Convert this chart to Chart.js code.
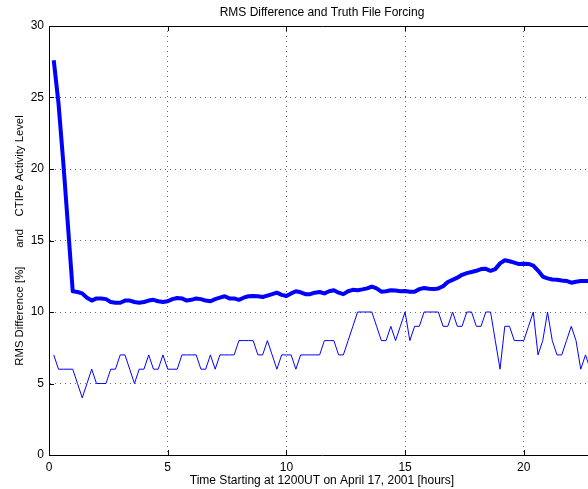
<!DOCTYPE html>
<html>
<head>
<meta charset="utf-8">
<script src="https://cdn.jsdelivr.net/npm/chart.js@4/dist/chart.umd.min.js"></script>
<style>
  html, body { margin: 0; padding: 0; overflow: hidden; background: #fff; }
  #wrap { width: 600px; height: 489px; }
</style>
</head>
<body>
<div id="wrap"><canvas id="rmsChart" width="600" height="489"></canvas></div>
<script>
// sample times (hours after 1200UT)
const hours = [
  0.2, 0.4, 0.6, 0.8, 1.0, 1.2, 1.4, 1.6, 1.8, 2.0,
  2.2, 2.4, 2.6, 2.8, 3.0, 3.2, 3.4, 3.6, 3.8, 4.0,
  4.2, 4.4, 4.6, 4.8, 5.0, 5.2, 5.4, 5.6, 5.8, 6.0,
  6.2, 6.4, 6.6, 6.8, 7.0, 7.2, 7.4, 7.6, 7.8, 8.0,
  8.2, 8.4, 8.6, 8.8, 9.0, 9.2, 9.4, 9.6, 9.8, 10.0,
  10.2, 10.4, 10.6, 10.8, 11.0, 11.2, 11.4, 11.6, 11.8, 12.0,
  12.2, 12.4, 12.6, 12.8, 13.0, 13.2, 13.4, 13.6, 13.8, 14.0,
  14.2, 14.4, 14.6, 14.8, 15.0, 15.2, 15.4, 15.6, 15.8, 16.0,
  16.2, 16.4, 16.6, 16.8, 17.0, 17.2, 17.4, 17.6, 17.8, 18.0,
  18.2, 18.4, 18.6, 18.8, 19.0, 19.2, 19.4, 19.6, 19.8, 20.0,
  20.2, 20.4, 20.6, 20.8, 21.0, 21.2, 21.4, 21.6, 21.8, 22.0,
  22.2, 22.4, 22.6, 22.8
];

// RMS difference [%] (thick line)
const rmsDiff = [
  27.6, 24.6, 20.5, 16.0, 11.45, 11.4, 11.3, 11.0, 10.8, 10.95,
  10.95, 10.9, 10.7, 10.65, 10.65, 10.8, 10.8, 10.7, 10.65, 10.7,
  10.8, 10.85, 10.75, 10.7, 10.75, 10.9, 10.98, 10.95, 10.8, 10.85,
  10.95, 10.9, 10.8, 10.75, 10.9, 11.0, 11.1, 10.95, 10.95, 10.85,
  11.0, 11.1, 11.12, 11.1, 11.05, 11.15, 11.25, 11.35, 11.2, 11.12,
  11.3, 11.45, 11.38, 11.25, 11.25, 11.35, 11.4, 11.3, 11.45, 11.52,
  11.35, 11.25, 11.45, 11.55, 11.52, 11.58, 11.65, 11.78, 11.65, 11.42,
  11.45, 11.52, 11.5, 11.45, 11.47, 11.42, 11.42, 11.6, 11.68, 11.62,
  11.6, 11.65, 11.8, 12.1, 12.25, 12.4, 12.6, 12.72, 12.8, 12.88,
  13.0, 13.02, 12.88, 13.0, 13.4, 13.62, 13.55, 13.45, 13.35, 13.38,
  13.36, 13.25, 12.9, 12.48, 12.35, 12.27, 12.26, 12.2, 12.17, 12.05,
  12.12, 12.17, 12.17, 12.17
];

// CTIPe activity level (thin line)
const activity = [
  7, 6, 6, 6, 6, 5, 4, 5, 6, 5,
  5, 5, 6, 6, 7, 7, 6, 5, 6, 6,
  7, 6, 6, 7, 6, 6, 6, 7, 7, 7,
  7, 6, 6, 7, 6, 7, 7, 7, 7, 8,
  8, 8, 8, 7, 7, 8, 7, 6, 7, 7,
  7, 6, 7, 7, 7, 7, 7, 8, 8, 8,
  7, 7, 8, 9, 10, 10, 10, 10, 9, 8,
  8, 9, 8, 9, 10, 8, 9, 9, 10, 10,
  10, 10, 9, 9, 10, 9, 9, 10, 10, 9,
  9, 10, 10, 8, 6, 9, 9, 8, 8, 8,
  9, 10, 7, 8, 10, 8, 7, 7, 8, 9,
  8, 6, 7, 6
];

const xTicks = [0, 5, 10, 15, 20];
const yTicks = [0, 5, 10, 15, 20, 25, 30];

const FONT = 'Liberation Sans, Arial, Helvetica, sans-serif';

// matlab style inward tick marks
const inwardTicks = {
  id: 'inwardTicks',
  afterDraw(chart) {
    const ctx = chart.ctx;
    const area = chart.chartArea;
    const xs = chart.scales.x, ys = chart.scales.y;
    ctx.save();
    ctx.strokeStyle = '#000';
    ctx.lineWidth = 1;
    ctx.beginPath();
    xTicks.forEach(v => {
      const px = Math.round(xs.getPixelForValue(v)) + 0.5;
      ctx.moveTo(px, area.bottom);
      ctx.lineTo(px, area.bottom - 5);
      ctx.moveTo(px, area.top);
      ctx.lineTo(px, area.top + 5);
    });
    yTicks.forEach(v => {
      const py = Math.round(ys.getPixelForValue(v)) + 0.5;
      ctx.moveTo(area.left, py);
      ctx.lineTo(area.left + 5, py);
    });
    ctx.stroke();
    ctx.restore();
  }
};

new Chart(document.getElementById('rmsChart'), {
  type: 'line',
  data: {
    datasets: [
      {
        label: 'RMS Difference',
        data: hours.map((h, i) => ({ x: h, y: rmsDiff[i] })),
        borderColor: '#0000ff',
        borderWidth: 4,
        pointRadius: 0,
        tension: 0,
        borderJoinStyle: 'round',
        fill: false
      },
      {
        label: 'CTIPe Activity Level',
        data: hours.map((h, i) => ({ x: h, y: activity[i] })),
        borderColor: '#0000ff',
        borderWidth: 1,
        pointRadius: 0,
        tension: 0,
        fill: false
      }
    ]
  },
  options: {
    responsive: false,
    animation: false,
    devicePixelRatio: 1,
    layout: { padding: { left: 0, right: 5, top: 0, bottom: 0 } },
    plugins: {
      legend: { display: false },
      tooltip: { enabled: false }
    },
    scales: {
      x: {
        type: 'linear',
        position: 'bottom',
        min: 0,
        max: 23,
        afterBuildTicks: s => { s.ticks = xTicks.map(v => ({ value: v })); },
        afterFit: s => { s.height = 34; },
        grid: { color: '#666', lineWidth: 1, drawTicks: false },
        border: { display: true, color: '#000', width: 1, dash: [1, 4] },
        ticks: { color: '#000', padding: 5, maxRotation: 0, font: { family: FONT, size: 12 } },
        title: {
          display: true,
          text: 'Time Starting at 1200UT on April 17, 2001 [hours]',
          color: '#000',
          font: { family: FONT, size: 12 },
          padding: { top: 0, bottom: 1 }
        }
      },
      x2: {
        type: 'linear',
        position: 'top',
        min: 0,
        max: 23,
        afterFit: s => { s.height = 26; },
        grid: { display: false, drawTicks: false },
        border: { display: true, color: '#000', width: 1 },
        ticks: { display: false },
        title: {
          display: true,
          text: 'RMS Difference and Truth File Forcing',
          color: '#000',
          font: { family: FONT, size: 12 },
          padding: { top: 5, bottom: 0 }
        }
      },
      y: {
        type: 'linear',
        min: 0,
        max: 30,
        afterBuildTicks: s => { s.ticks = yTicks.map(v => ({ value: v })); },
        afterFit: s => { s.width = 49; },
        grid: { color: '#666', lineWidth: 1, drawTicks: false },
        border: { display: true, color: '#000', width: 1, dash: [1, 4] },
        ticks: { color: '#000', padding: 5, font: { family: FONT, size: 12 } },
        title: {
          display: true,
          text: 'RMS Difference [%]      and    CTIPe Activity Level',
          color: '#000',
          font: { family: FONT, size: 11.3 },
          padding: { top: 13, bottom: 0 }
        }
      }
    }
  },
  plugins: [inwardTicks]
});
</script>
</body>
</html>
